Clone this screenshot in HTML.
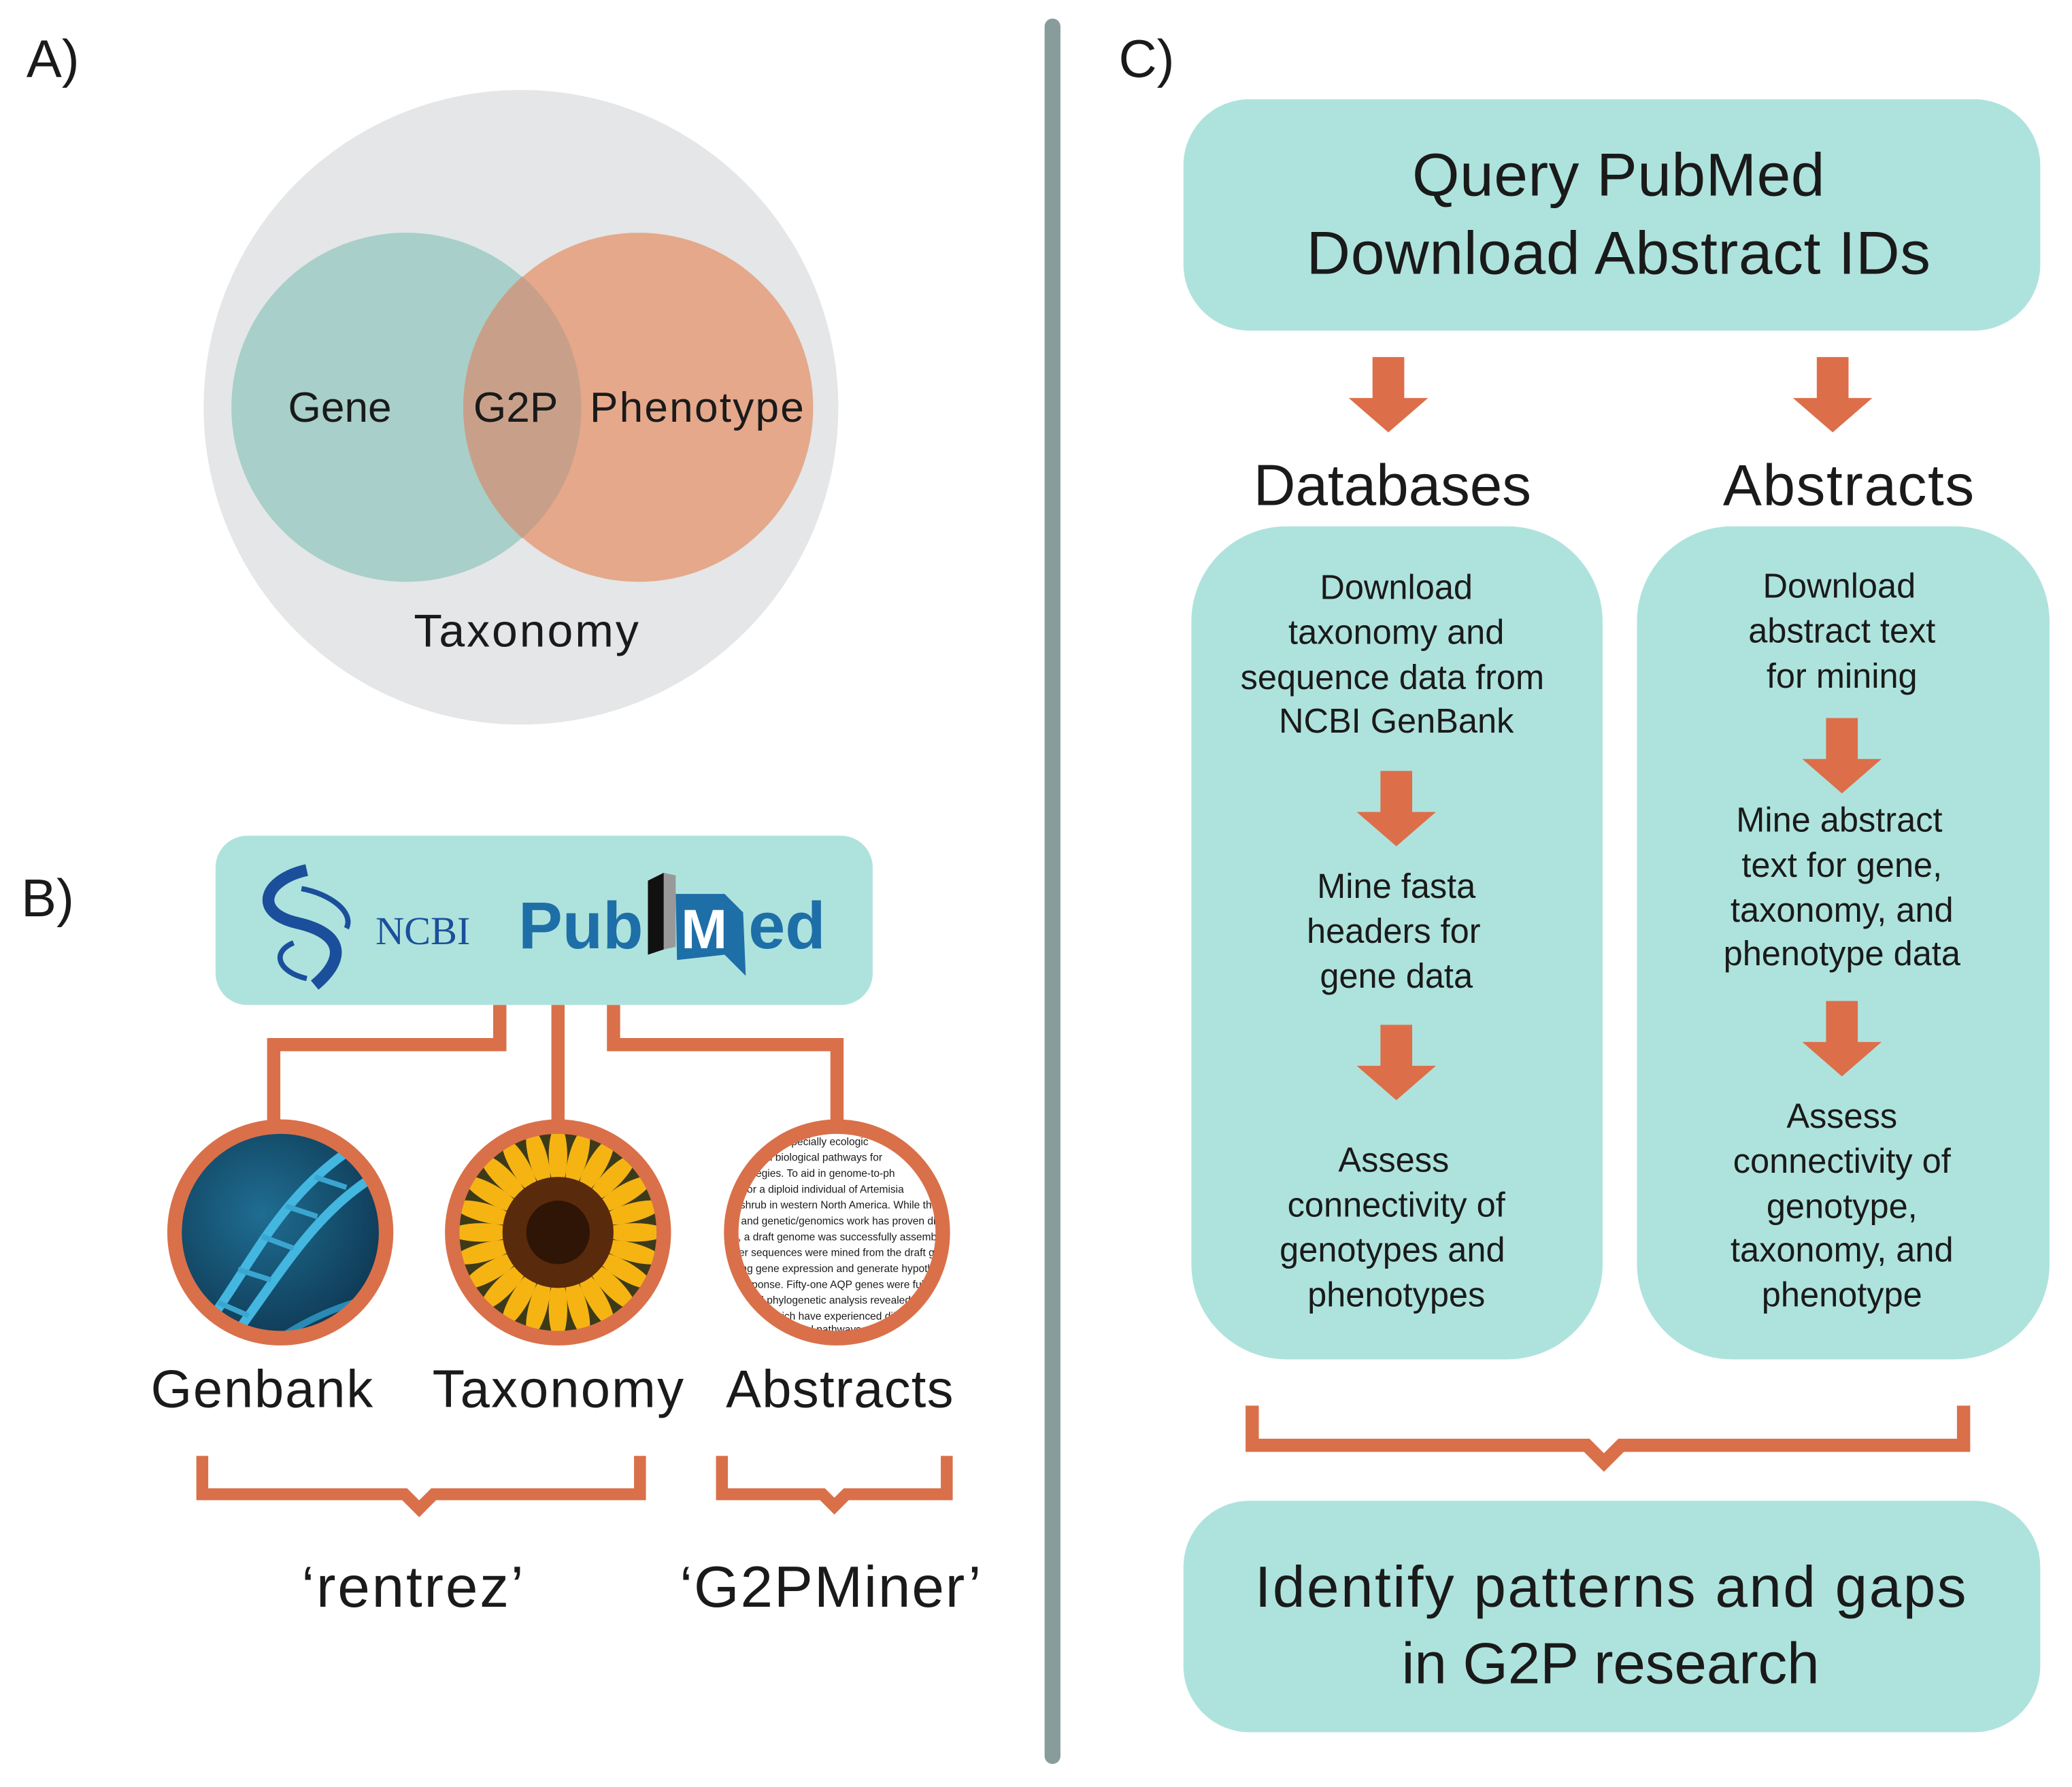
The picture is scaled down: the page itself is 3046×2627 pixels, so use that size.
<!DOCTYPE html>
<html><head><meta charset="utf-8"><style>
html,body{margin:0;padding:0;background:#fff;}
svg{display:block;}
text{font-family:"Liberation Sans",sans-serif;fill:#1a1a1a;}
</style></head><body>
<svg width="3046" height="2627" viewBox="0 0 1567 1351.4" xmlns="http://www.w3.org/2000/svg">
<defs>
<clipPath id="c1"><circle cx="212" cy="932" r="78"/></clipPath>
<clipPath id="c2"><circle cx="422" cy="932" r="78"/></clipPath>
<clipPath id="c3"><circle cx="633" cy="932" r="78"/></clipPath>
<radialGradient id="dna" cx="0.4" cy="0.4" r="0.7"><stop offset="0" stop-color="#1f6d92"/><stop offset="1" stop-color="#0b2f48"/></radialGradient>
<g id="arr"><rect x="-12" y="0" width="24" height="32" fill="#dd6e4a"/><polygon points="-30,31 30,31 0,57" fill="#dd6e4a"/></g>
<ellipse id="pet" cx="0" cy="-58" rx="7" ry="24" fill="#f6b413"/>
</defs>

<!-- A -->
<text x="20" y="58" font-size="40">A)</text>
<circle cx="394" cy="308" r="240" fill="#e4e6e7"/>
<circle cx="307" cy="308" r="132" fill="#a8cfc9"/>
<circle cx="483" cy="308" r="132" fill="#e5a88b"/>
<path d="M395,209 A132,132 0 0 1 395,407 A132,132 0 0 1 395,209Z" fill="#c8a08a"/>
<text x="257" y="319" font-size="32" text-anchor="middle">Gene</text>
<text x="390" y="319" font-size="32" text-anchor="middle">G2P</text>
<text x="527" y="319" font-size="32" text-anchor="middle" textLength="162">Phenotype</text>
<text x="398" y="489" font-size="35" text-anchor="middle" textLength="170">Taxonomy</text>

<!-- divider -->
<line x1="796" y1="20" x2="796" y2="1328" stroke="#889d9b" stroke-width="12" stroke-linecap="round"/>

<!-- B -->
<text x="16" y="693" font-size="40">B)</text>
<rect x="163" y="632" width="497" height="128" rx="24" fill="#aee3dd"/>
<path d="M232,658 C200,665 190,690 225,698 C260,706 262,725 238,745" fill="none" stroke="#1b4f9c" stroke-width="9"/>
<path d="M228,672 C250,676 268,690 262,702 M222,713 C205,720 210,735 232,740" fill="none" stroke="#1b4f9c" stroke-width="4"/>
<text x="284" y="714" font-size="30" style="font-family:'Liberation Serif',serif;fill:#1b4f9c">NCBI</text>
<text x="392" y="717" font-size="50" font-weight="bold" style="fill:#1e6fa8">Pub</text>
<polygon points="490,666 502,660 502,718 490,722" fill="#111"/>
<polygon points="502,660 511,662 511,716 502,718" fill="#999"/>
<path d="M511,676 L548,676 L562,690 L564,738 L548,722 L512,726Z" fill="#1e6fa8"/>
<text x="515" y="717" font-size="42" font-weight="bold" style="fill:#fff">M</text>
<text x="566" y="717" font-size="50" font-weight="bold" style="fill:#1e6fa8">ed</text>

<g fill="none" stroke="#d9704a" stroke-width="10">
<path d="M378,760 V790 H207 V852"/>
<path d="M422,760 V852"/>
<path d="M464,760 V790 H633 V852"/>
</g>
<!-- Genbank circle -->
<g clip-path="url(#c1)">
<rect x="130" y="850" width="170" height="170" fill="url(#dna)"/>
<path d="M150,1010 C190,960 210,900 280,860" fill="none" stroke="#43b7e0" stroke-width="7"/>
<path d="M170,1020 C215,960 240,910 300,880" fill="none" stroke="#43b7e0" stroke-width="7"/>
<g stroke="#3aa6d0" stroke-width="4"><line x1="165" y1="985" x2="188" y2="995"/><line x1="180" y1="960" x2="205" y2="968"/><line x1="198" y1="935" x2="222" y2="944"/><line x1="216" y1="912" x2="240" y2="920"/><line x1="238" y1="890" x2="262" y2="898"/></g>
<path d="M200,1020 C240,990 270,985 300,975" fill="none" stroke="#2a8ab5" stroke-width="5"/>
</g>
<circle cx="212" cy="932" r="80" fill="none" stroke="#d9704a" stroke-width="11"/>
<!-- Sunflower -->
<g clip-path="url(#c2)">
<rect x="340" y="850" width="170" height="170" fill="#3d3a1a"/>
<g transform="translate(422,932)">
<use href="#pet"/><use href="#pet" transform="rotate(15)"/><use href="#pet" transform="rotate(30)"/><use href="#pet" transform="rotate(45)"/><use href="#pet" transform="rotate(60)"/><use href="#pet" transform="rotate(75)"/><use href="#pet" transform="rotate(90)"/><use href="#pet" transform="rotate(105)"/><use href="#pet" transform="rotate(120)"/><use href="#pet" transform="rotate(135)"/><use href="#pet" transform="rotate(150)"/><use href="#pet" transform="rotate(165)"/><use href="#pet" transform="rotate(180)"/><use href="#pet" transform="rotate(195)"/><use href="#pet" transform="rotate(210)"/><use href="#pet" transform="rotate(225)"/><use href="#pet" transform="rotate(240)"/><use href="#pet" transform="rotate(255)"/><use href="#pet" transform="rotate(270)"/><use href="#pet" transform="rotate(285)"/><use href="#pet" transform="rotate(300)"/><use href="#pet" transform="rotate(315)"/><use href="#pet" transform="rotate(330)"/><use href="#pet" transform="rotate(345)"/>
<circle r="42" fill="#5a2a0c"/><circle r="24" fill="#2e1505"/>
</g>
</g>
<circle cx="422" cy="932" r="80" fill="none" stroke="#d9704a" stroke-width="11"/>
<!-- Abstract text -->
<g clip-path="url(#c3)">
<rect x="550" y="850" width="170" height="170" fill="#fff"/>
<g font-size="8" style="fill:#444">
<text x="590" y="866">especially ecologic</text>
<text x="565" y="878">ential biological pathways for</text>
<text x="556" y="890">strategies. To aid in genome-to-ph</text>
<text x="556" y="902">d for a diploid individual of Artemisia</text>
<text x="553" y="914">e shrub in western North America. While th</text>
<text x="552" y="926">le and genetic/genomics work has proven dif</text>
<text x="552" y="938">st, a draft genome was successfully assembled</text>
<text x="552" y="950">oter sequences were mined from the draft geno</text>
<text x="552" y="962">ating gene expression and generate hypotheses</text>
<text x="553" y="974">t response. Fifty-one AQP genes were fully ass</text>
<text x="555" y="986">er and phylogenetic analysis revealed putat</text>
<text x="558" y="998">AQPs which have experienced differen</text>
<text x="565" y="1008">ovel biological pathways. Compar</text>
<text x="575" y="1018">ments of AQP genes in this</text>
</g>
</g>
<circle cx="633" cy="932" r="80" fill="none" stroke="#d9704a" stroke-width="11"/>

<text x="198" y="1064" font-size="40" text-anchor="middle" textLength="168">Genbank</text>
<text x="422" y="1064" font-size="40" text-anchor="middle" textLength="190">Taxonomy</text>
<text x="635" y="1064" font-size="40" text-anchor="middle" textLength="172">Abstracts</text>
<g fill="none" stroke="#d9704a" stroke-width="9">
<path d="M153,1101 V1130 H306 L317,1141 L328,1130 H484 V1101"/>
<path d="M546,1101 V1130 H622 L631,1139 L640,1130 H716 V1101"/>
</g>
<text x="312" y="1215" font-size="44" text-anchor="middle" textLength="168">‘rentrez’</text>
<text x="628" y="1215" font-size="44" text-anchor="middle" textLength="228">‘G2PMiner’</text>

<!-- C -->
<text x="846" y="58" font-size="40">C)</text>
<rect x="895" y="75" width="648" height="175" rx="50" fill="#aee3dd"/>
<text x="1224" y="148" font-size="46" text-anchor="middle" textLength="312">Query PubMed</text>
<text x="1224" y="207" font-size="46" text-anchor="middle" textLength="472">Download Abstract IDs</text>
<use href="#arr" x="1050" y="270"/>
<use href="#arr" x="1386" y="270"/>
<text x="1053" y="382" font-size="44" text-anchor="middle" textLength="210">Databases</text>
<text x="1398" y="382" font-size="44" text-anchor="middle" textLength="190">Abstracts</text>

<rect x="901" y="398" width="311" height="630" rx="72" fill="#aee3dd"/>
<rect x="1238" y="398" width="312" height="630" rx="72" fill="#aee3dd"/>
<g font-size="26" text-anchor="middle">
<text x="1056" y="453">Download</text>
<text x="1056" y="487">taxonomy and</text>
<text x="1053" y="521">sequence data from</text>
<text x="1056" y="554">NCBI GenBank</text>
<text x="1056" y="679">Mine fasta</text>
<text x="1054" y="713">headers for</text>
<text x="1056" y="747">gene data</text>
<text x="1054" y="886">Assess</text>
<text x="1056" y="920">connectivity of</text>
<text x="1053" y="954">genotypes and</text>
<text x="1056" y="988">phenotypes</text>

<text x="1391" y="452">Download</text>
<text x="1393" y="486">abstract text</text>
<text x="1393" y="520">for mining</text>
<text x="1391" y="629">Mine abstract</text>
<text x="1393" y="663">text for gene,</text>
<text x="1393" y="697">taxonomy, and</text>
<text x="1393" y="730">phenotype data</text>
<text x="1393" y="853">Assess</text>
<text x="1393" y="887">connectivity of</text>
<text x="1393" y="921">genotype,</text>
<text x="1393" y="954">taxonomy, and</text>
<text x="1393" y="988">phenotype</text>
</g>
<use href="#arr" x="1056" y="583"/>
<use href="#arr" x="1056" y="775"/>
<use href="#arr" x="1393" y="543"/>
<use href="#arr" x="1393" y="757"/>

<g fill="none" stroke="#d9704a" stroke-width="10">
<path d="M947,1063 V1093 H1200 L1213,1106 L1226,1093 H1485 V1063"/>
</g>
<rect x="895" y="1135" width="648" height="175" rx="50" fill="#aee3dd"/>
<text x="1218" y="1215" font-size="44" text-anchor="middle" textLength="538">Identify patterns and gaps</text>
<text x="1218" y="1273" font-size="44" text-anchor="middle" textLength="316">in G2P research</text>
</svg>
</body></html>
